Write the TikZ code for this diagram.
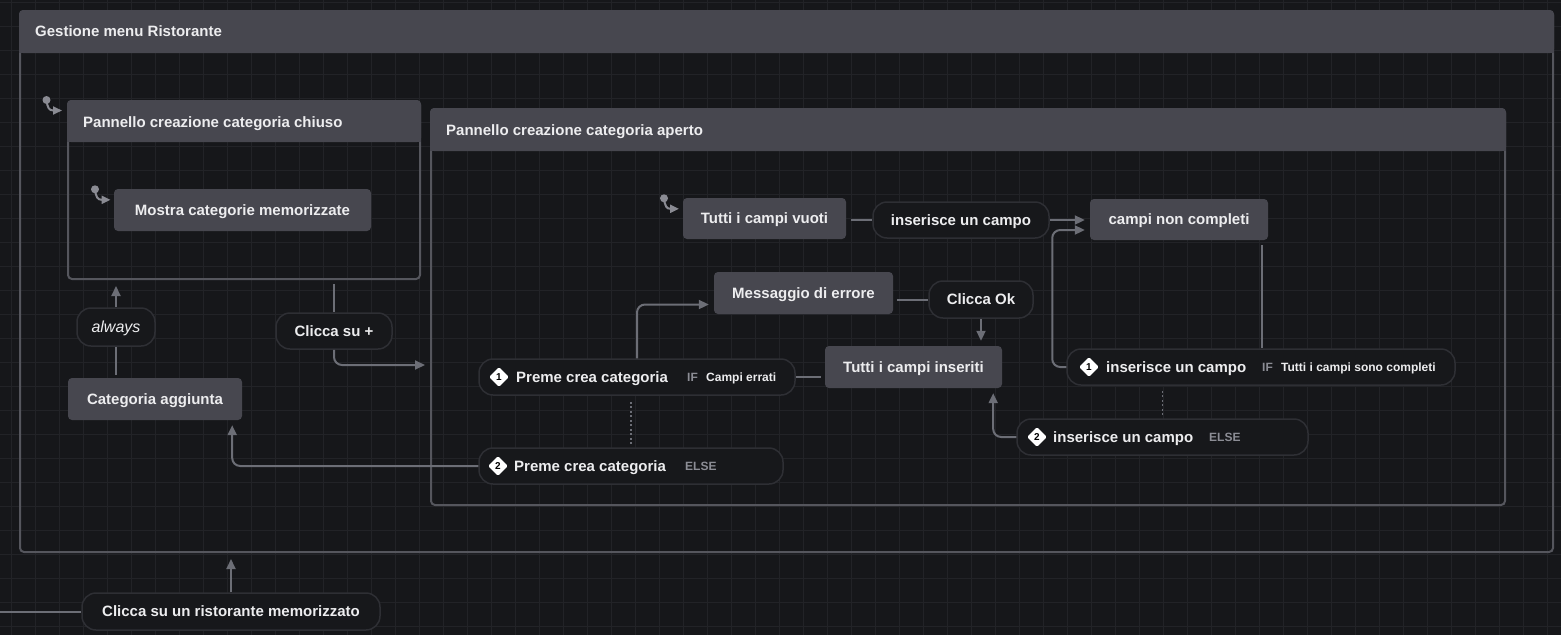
\documentclass[tikz,border=0pt]{standalone}
\usepackage{fontspec}
\setmainfont{Liberation Sans}
\usetikzlibrary{arrows.meta,shapes.geometric,calc}
\definecolor{bgc}{HTML}{16171A}
\definecolor{gridc}{HTML}{222327}
\definecolor{hdrc}{HTML}{47474F}
\definecolor{cline}{HTML}{55565D}
\definecolor{pillf}{HTML}{17181B}
\definecolor{pilld}{HTML}{2E2F34}
\definecolor{connc}{HTML}{6C6E76}
\definecolor{txtc}{HTML}{EDEDEF}
\definecolor{dimc}{HTML}{8C8D95}
\definecolor{markc}{HTML}{8A8B93}
\newcommand{\tzbig}{\bfseries\fontsize{15}{18}\selectfont}
\newcommand{\tzsmall}{\bfseries\fontsize{12}{14}\selectfont}
\newcommand{\tzital}{\itshape\fontsize{16}{19}\selectfont}
\newcommand{\tzbadge}{\bfseries\fontsize{10}{10}\selectfont}
\begin{document}
\begin{tikzpicture}[x=1pt,y=-1pt,
  cbox/.style={draw=cline, line width=2pt, rounded corners=4pt, inner sep=0pt},
  title/.style={anchor=west, text=txtc, font=\tzbig, inner sep=0pt, text height=10.8pt, text depth=0pt},
  state/.style={fill=hdrc, rounded corners=4pt, minimum height=42pt, inner sep=0pt, text=txtc, font=\tzbig, text height=10.8pt, text depth=0pt},
  pill/.style={fill=pillf, draw=pilld, line width=1.5pt, rounded corners=14pt, inner sep=0pt, text=txtc, font=\tzbig, text height=10.8pt, text depth=0pt},
  plbl/.style={anchor=west, inner sep=0pt, text=txtc, font=\tzbig, text height=10.8pt, text depth=0pt},
  iflbl/.style={anchor=west, inner sep=0pt, text=dimc, font=\tzsmall, text height=8.6pt, text depth=0pt},
  condlbl/.style={anchor=west, inner sep=0pt, text=txtc, font=\tzsmall, text height=8.6pt, text depth=0pt},
  badge/.style={diamond, fill=white, text=black, font=\tzbadge, minimum width=20pt, minimum height=20pt, inner sep=0pt, rounded corners=1.5pt},
  conn/.style={draw=connc, line width=2pt, rounded corners=8pt},
  arr/.style={conn, -{Triangle[length=10pt,width=9pt]}},
  guardline/.style={draw=connc, line width=1.5pt, dash pattern=on 2pt off 2.5pt},
  initline/.style={draw=markc, line width=2pt, -{Triangle[length=9pt,width=8pt]}}
]
\useasboundingbox (0,0) rectangle (1561,635);
\fill[bgc] (0,0) rectangle (1561,635);
\foreach \i in {0,...,64} {\draw[gridc, line width=1pt] ({11.7+24*\i},0) -- ({11.7+24*\i},635);}
\foreach \j in {0,...,26} {\draw[gridc, line width=1pt] (0,{2+24*\j}) -- (1561,{2+24*\j});}

% ---------- compound states ----------
\node[cbox, minimum width=1533pt, minimum height=541pt, anchor=north west] (gest) at (19,10) {};
\fill[hdrc, rounded corners=4pt] (gest.north west) rectangle ([yshift=-43pt]gest.north east);
\fill[hdrc] ([yshift=-20pt]gest.north west) rectangle ([yshift=-43pt]gest.north east);
\node[title] (gestT) at ([xshift=16pt,yshift=-21.5pt]gest.north west) {Gestione menu Ristorante};

\node[cbox, minimum width=352pt, minimum height=178pt, anchor=north west] (chiuso) at (67,100) {};
\fill[hdrc, rounded corners=4pt] (chiuso.north west) rectangle ([yshift=-42pt]chiuso.north east);
\fill[hdrc] ([yshift=-20pt]chiuso.north west) rectangle ([yshift=-42pt]chiuso.north east);
\node[title] (chiusoT) at ([xshift=16pt,yshift=-22pt]chiuso.north west) {Pannello creazione categoria chiuso};

\node[cbox, minimum width=1074pt, minimum height=396pt, anchor=north west] (aperto) at (430,108) {};
\fill[hdrc, rounded corners=4pt] (aperto.north west) rectangle ([yshift=-43pt]aperto.north east);
\fill[hdrc] ([yshift=-20pt]aperto.north west) rectangle ([yshift=-43pt]aperto.north east);
\node[title] (apertoT) at ([xshift=16pt,yshift=-22pt]aperto.north west) {Pannello creazione categoria aperto};

% ---------- simple states ----------
\node[state, minimum width=257pt] (mostra) at (242.5,210) {Mostra categorie memorizzate};
\node[state, minimum width=174pt] (catagg) at (155,399) {Categoria aggiunta};
\node[state, minimum width=163pt, minimum height=41pt] (vuoti) at (764.5,218.5) {Tutti i campi vuoti};
\node[state, minimum width=178pt, minimum height=41pt] (noncomp) at (1179,219.5) {campi non completi};
\node[state, minimum width=179pt] (errore) at (803.5,293) {Messaggio di errore};
\node[state, minimum width=177pt] (inseriti) at (913.5,367) {Tutti i campi inseriti};

% ---------- event pills ----------
\node[pill, minimum width=176pt, minimum height=36pt] (inscampo) at (961,220) {inserisce un campo};
\node[pill, minimum width=104pt, minimum height=37pt] (clickok) at (981,299.5) {Clicca Ok};
\node[pill, minimum width=78pt, minimum height=38pt, font=\tzital, text height=11.5pt] (always) at (116,327) {always};
\node[pill, minimum width=116pt, minimum height=36pt] (clickplus) at (334,331) {Clicca su +};
\node[pill, minimum width=298pt, minimum height=37pt] (clickrist) at (231,611.5) {Clicca su un ristorante memorizzato};

% ---------- guarded pills ----------
\node[pill, minimum width=316pt, minimum height=36pt] (g1) at (637,377) {};
\node[badge] (g1b) at (499,377) {1};
\node[plbl] (g1t) at (516,377) {Preme crea categoria};
\node[iflbl] (g1i) at (687,377) {IF};
\node[condlbl] (g1c) at (706,377) {Campi errati};

\node[pill, minimum width=304pt, minimum height=36pt] (g2) at (631,466) {};
\node[badge] (g2b) at (498,466) {2};
\node[plbl] (g2t) at (514,466) {Preme crea categoria};
\node[iflbl] (g2e) at (685,466) {ELSE};

\node[pill, minimum width=388pt, minimum height=36pt] (h1) at (1261,367) {};
\node[badge] (h1b) at (1089,367) {1};
\node[plbl] (h1t) at (1106,367) {inserisce un campo};
\node[iflbl] (h1i) at (1262,367) {IF};
\node[condlbl] (h1c) at (1281,367) {Tutti i campi sono completi};

\node[pill, minimum width=291pt, minimum height=36pt] (h2) at (1162.5,437) {};
\node[badge] (h2b) at (1037,437) {2};
\node[plbl] (h2t) at (1053,437) {inserisce un campo};
\node[iflbl] (h2e) at (1209,437) {ELSE};

% ---------- initial markers ----------
\coordinate (i1s) at (46.5,100); \coordinate (i1e) at (62,110.5);
\fill[markc] (i1s) circle (4pt);
\draw[initline] (i1s) .. controls (47.5,108) and (49,110.5) .. (i1e);
\coordinate (i2s) at (95,189.3); \coordinate (i2e) at (110.5,199.8);
\fill[markc] (i2s) circle (4pt);
\draw[initline] (i2s) .. controls (96,197.3) and (97.5,199.8) .. (i2e);
\coordinate (i3s) at (664,198.3); \coordinate (i3e) at (679,208.8);
\fill[markc] (i3s) circle (4pt);
\draw[initline] (i3s) .. controls (665,206.3) and (666.5,208.8) .. (i3e);

% ---------- connectors ----------
\coordinate (entry) at (0,611.5);
\draw[conn] (entry) -- (clickrist.west);
\draw[arr, shorten >=6pt] (clickrist.north) -- (clickrist.north |- gest.south);

\draw[conn, shorten <=4pt] (clickplus.north |- chiuso.south) -- (clickplus.north);
\coordinate (apin) at (425,365);
\draw[arr] (clickplus.south) |- (apin);

\draw[conn, shorten <=3pt] (always.south |- catagg.north) -- (always.south);
\draw[arr, shorten >=6pt] (always.north) -- (always.north |- chiuso.south);

\draw[conn, shorten <=5pt] (vuoti.east |- inscampo.west) -- (inscampo.west);
\draw[arr, shorten >=5pt] (inscampo.east) -- (inscampo.east -| noncomp.west);

\coordinate (nc2) at ([yshift=-10.5pt]noncomp.west);
\draw[arr, shorten >=5pt] (h1.west) -- ++(-14,0) |- (nc2);
\coordinate (nc1) at ([xshift=-6pt]noncomp.south east);
\draw[conn, shorten <=5pt] (nc1) -- (nc1 |- h1.north);

\draw[guardline, shorten <=5pt, shorten >=2pt] (h2.north |- h1.south) -- (h2.north);
\coordinate (ins1) at ([xshift=-9pt]inseriti.south east);
\draw[arr, shorten >=5pt] (h2.west) -| (ins1);

\draw[arr, shorten >=5pt] (clickok.south) -- (clickok.south |- inseriti.north);
\draw[conn, shorten <=4pt] (errore.east |- clickok.west) -- (clickok.west);
\draw[conn, shorten <=4pt] (inseriti.west |- g1.east) -- (g1.east);

\coordinate (err1) at ([yshift=-11.5pt]errore.west);
\draw[arr, shorten >=5pt] (g1.north) |- (err1);

\draw[guardline, shorten <=6pt, shorten >=3pt] (g2.north |- g1.south) -- (g2.north);
\coordinate (cat1) at ([xshift=-10pt]catagg.south east);
\draw[arr, shorten >=5pt] (g2.west) -| (cat1);
\end{tikzpicture}
\end{document}
